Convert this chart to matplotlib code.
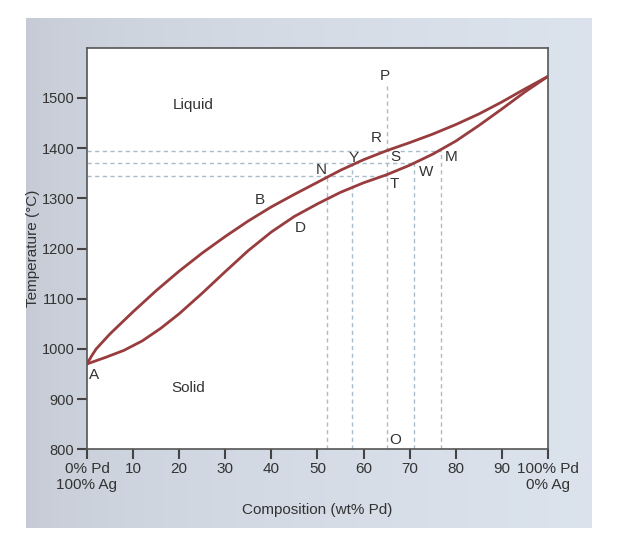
import numpy as np
import matplotlib
matplotlib.use("Agg")
import matplotlib.pyplot as plt

plt.rcParams['font.family'] = ['Liberation Sans', 'DejaVu Sans']

# Liquidus (upper) and solidus (lower) curves, wt% Pd vs temperature (°C)
liq_x = [0, 1, 2, 5, 10, 15, 20, 25, 30, 35, 40, 45, 50, 55, 60, 65, 70, 75, 80, 85, 90, 95, 100]
liq_T = [970, 986, 1000, 1030, 1074, 1116, 1155, 1191, 1224, 1255, 1283, 1308, 1332, 1356, 1377, 1395,
         1411, 1428, 1447, 1468, 1492, 1518, 1543]
sol_x = [0, 4, 8, 12, 16, 20, 25, 30, 35, 40, 45, 50, 55, 60, 65, 70, 75, 80, 85, 90, 95, 100]
sol_T = [970, 983, 997, 1016, 1041, 1070, 1111, 1154, 1196, 1233, 1264, 1289, 1312, 1331, 1347,
         1366, 1388, 1414, 1445, 1478, 1512, 1543]

# Guide lines
h_levels = [1395, 1371, 1344]
h_ends = [76.9, 70.9, 65]
v_pos = [52.0, 57.4, 65, 70.9, 76.9]
v_tops = [1344, 1371, 1523, 1371, 1395]

# Point labels
pt_names = ['A', 'B', 'D', 'N', 'Y', 'R', 'S', 'M', 'W', 'T', 'P', 'O']
pt_x = [1.6, 37.5, 46.3, 50.9, 57.8, 62.8, 67.0, 79.0, 73.5, 66.7, 64.6, 66.8]
pt_T = [948, 1297, 1240, 1357, 1381, 1420, 1382, 1383, 1353, 1328, 1544, 818]

region_names = ['Liquid', 'Solid']
region_x = [23.0, 22.0]
region_T = [1487, 923]

xticks = [0, 10, 20, 30, 40, 50, 60, 70, 80, 90, 100]
xticklabels = ['0% Pd\n100% Ag', '10', '20', '30', '40', '50', '60', '70', '80', '90', '100% Pd\n0% Ag']
yticks = [800, 900, 1000, 1100, 1200, 1300, 1400, 1500]

fig = plt.figure(figsize=(6.17, 5.56), dpi=100, facecolor='white')

# scanned-page background panel
bg = fig.add_axes([0.042, 0.05, 0.916, 0.918], zorder=0)
grad = np.linspace(0, 1, 256)
cols = np.array([[0.77, 0.79, 0.83], [0.86, 0.89, 0.93]])
w = np.sqrt(grad)
img = cols[0][None, None, :] * (1 - w)[None, :, None] + cols[1][None, None, :] * w[None, :, None]
bg.imshow(img, aspect='auto', extent=[0, 1, 0, 1])
bg.set_axis_off()

ax = fig.add_axes([0.141, 0.192, 0.747, 0.722], zorder=1)
ax.set_facecolor('white')
ax.set_xlim(0, 100)
ax.set_ylim(800, 1600)

dash_col = '#a8bccb'
for lvl, xe in zip(h_levels, h_ends):
    ax.plot([0, xe], [lvl, lvl], color=dash_col, lw=1.0, ls=(0, (3, 2.5)), zorder=2)
for xp, top in zip(v_pos, v_tops):
    ax.plot([xp, xp], [800, top], color=dash_col, lw=1.0, ls=(0, (3, 2.5)), zorder=2)

curve_col = '#983c3e'
ax.plot(liq_x, liq_T, color=curve_col, lw=2.0, zorder=3, solid_capstyle='round', solid_joinstyle='round')
ax.plot(sol_x, sol_T, color=curve_col, lw=2.0, zorder=3, solid_capstyle='round', solid_joinstyle='round')

txt_col = '#333333'
for n, x, t in zip(pt_names, pt_x, pt_T):
    ax.text(x, t, n, ha='center', va='center', fontsize=11, color=txt_col, zorder=4)
for n, x, t in zip(region_names, region_x, region_T):
    ax.text(x, t, n, ha='center', va='center', fontsize=11, color=txt_col, zorder=4)

ax.set_xticks(xticks)
ax.set_xticklabels(xticklabels, fontsize=11, color=txt_col, linespacing=1.2)
ax.set_yticks(yticks)
ax.set_yticklabels([str(v) for v in yticks], fontsize=10.5, color=txt_col)
ax.tick_params(direction='out', length=7, width=1.5, color='#444444', pad=2)
for s in ax.spines.values():
    s.set_color('#555555')
    s.set_linewidth(1.2)

ax.set_xlabel('Composition (wt% Pd)', fontsize=11, color=txt_col, labelpad=8)
ax.set_ylabel('Temperature (°C)', fontsize=11, color=txt_col, labelpad=1)

fig.savefig('out.png', dpi=100, facecolor='white')
